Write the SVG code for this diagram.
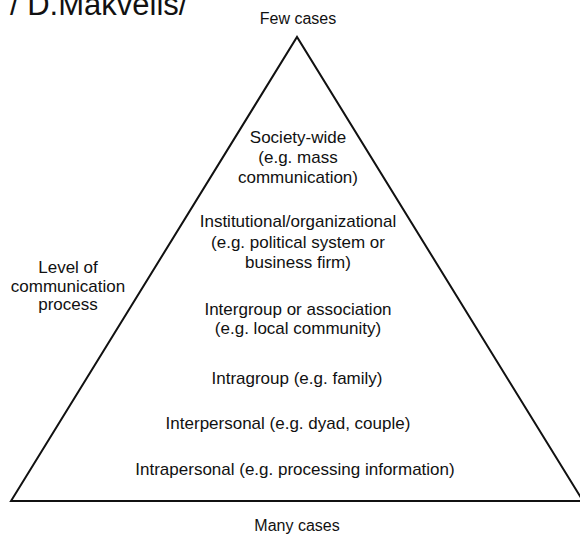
<svg xmlns="http://www.w3.org/2000/svg" width="580" height="539" viewBox="0 0 580 539">
<style>
text{font-family:"Liberation Sans",Arial,sans-serif;font-size:17px;fill:#111;text-anchor:middle}
.edge{fill:none;stroke:#111;stroke-width:2;stroke-linejoin:miter}
.end{font-size:16px}
</style>
<rect width="580" height="539" fill="#fff"/>
<text x="10" y="15" style="font-size:31px;text-anchor:start">/ D.Makvells/</text>
<g id="connectors">
<path class="edge" d="M11,501 L297,37 L583,501 Z"/>
</g>
<g id="few"><text class="end" x="298" y="24">Few cases</text></g>
<g id="many"><text class="end" x="297" y="531">Many cases</text></g>
<g id="axis"><text x="68" y="273">Level of</text><text x="68" y="291.5">communication</text><text x="68" y="310">process</text></g>
<g id="society"><text x="298" y="143">Society-wide</text><text x="298" y="163">(e.g. mass</text><text x="298" y="183">communication)</text></g>
<g id="institutional"><text x="298" y="227">Institutional/organizational</text><text x="298" y="248">(e.g. political system or</text><text x="298" y="268">business firm)</text></g>
<g id="intergroup"><text x="298" y="315">Intergroup or association</text><text x="298" y="334">(e.g. local community)</text></g>
<g id="intragroup"><text x="297" y="384">Intragroup (e.g. family)</text></g>
<g id="interpersonal"><text x="288" y="429">Interpersonal (e.g. dyad, couple)</text></g>
<g id="intrapersonal"><text x="295" y="475">Intrapersonal (e.g. processing information)</text></g>
</svg>
